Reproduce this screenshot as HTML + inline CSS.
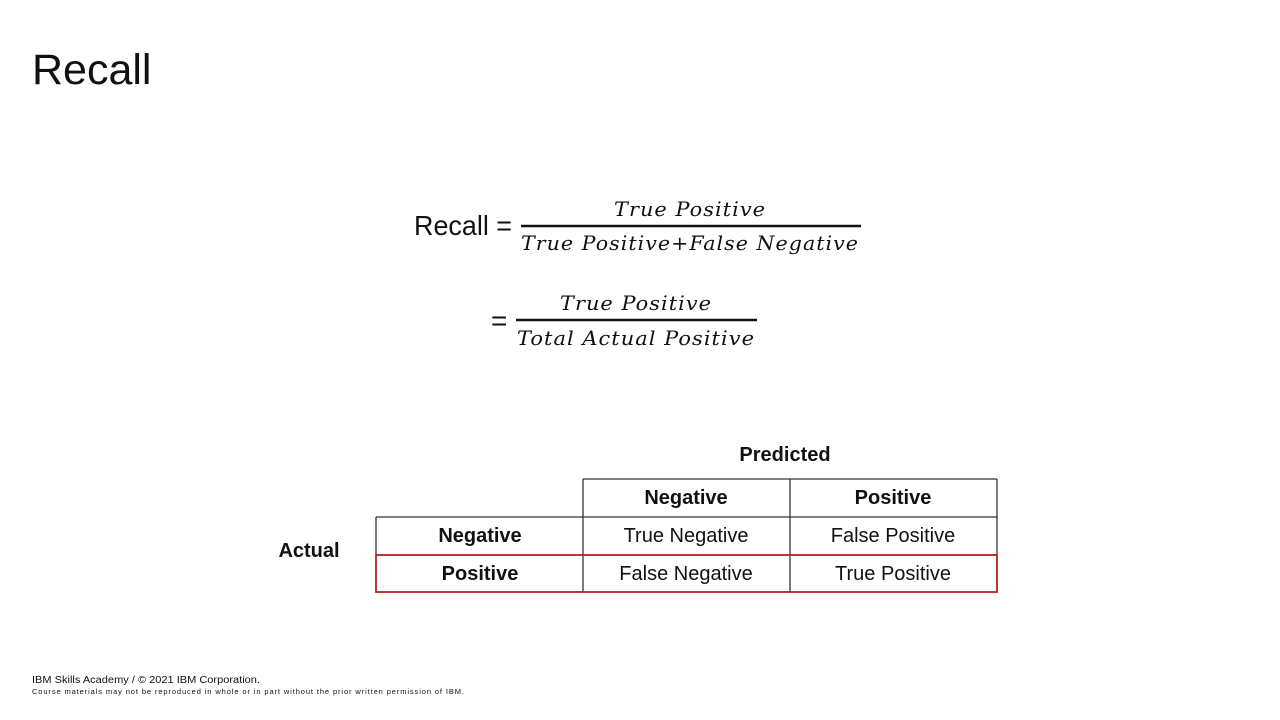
<!DOCTYPE html>
<html><head><meta charset="utf-8"><style>
html,body{margin:0;padding:0;background:#fff;}
svg{display:block;}
</style></head><body>
<svg width="1280" height="720" xmlns="http://www.w3.org/2000/svg">
<text x="32" y="84" font-family="Liberation Sans, sans-serif" font-size="43" fill="#111">Recall</text>

<g font-family="Liberation Sans, sans-serif" fill="#111">
<text x="414" y="235" font-size="28" textLength="98" lengthAdjust="spacingAndGlyphs">Recall =</text>
<text x="491" y="330" font-size="28">=</text>
</g>
<g font-family="DejaVu Serif, serif" font-style="italic" font-size="20" fill="#111" text-anchor="middle" letter-spacing="1">
<text x="690" y="216" textLength="152" lengthAdjust="spacingAndGlyphs">True Positive</text>
<text x="690" y="250" textLength="338" lengthAdjust="spacingAndGlyphs">True Positive+False Negative</text>
<text x="636" y="310" textLength="152" lengthAdjust="spacingAndGlyphs">True Positive</text>
<text x="636" y="345" textLength="238" lengthAdjust="spacingAndGlyphs">Total Actual Positive</text>
</g>
<line x1="521" y1="226" x2="861" y2="226" stroke="#111" stroke-width="2.5"/>
<line x1="516" y1="320" x2="757" y2="320" stroke="#111" stroke-width="2.5"/>

<g stroke="#333" stroke-width="1.3" fill="none">
<line x1="583" y1="479" x2="997" y2="479"/>
<line x1="583" y1="479" x2="583" y2="592"/>
<line x1="790" y1="479" x2="790" y2="592"/>
<line x1="997" y1="479" x2="997" y2="555"/>
<line x1="376" y1="517" x2="997" y2="517"/>
<line x1="376" y1="517" x2="376" y2="555"/>
</g>
<rect x="376" y="555" width="621" height="37" fill="none" stroke="#b22222" stroke-width="1.8"/>

<g font-family="Liberation Sans, sans-serif" font-size="20" fill="#111" text-anchor="middle">
<text x="785" y="461" font-weight="bold">Predicted</text>
<text x="309" y="557" font-weight="bold">Actual</text>
<text x="686" y="504" font-weight="bold">Negative</text>
<text x="893" y="504" font-weight="bold">Positive</text>
<text x="480" y="542" font-weight="bold">Negative</text>
<text x="480" y="580" font-weight="bold">Positive</text>
<text x="686" y="542">True Negative</text>
<text x="893" y="542">False Positive</text>
<text x="686" y="580">False Negative</text>
<text x="893" y="580">True Positive</text>
</g>

<g font-family="Liberation Sans, sans-serif" fill="#111">
<text x="32" y="683" font-size="10" textLength="228" lengthAdjust="spacingAndGlyphs">IBM Skills Academy / © 2021 IBM Corporation.</text>
<text x="32" y="694" font-size="7.5" textLength="432" lengthAdjust="spacing">Course materials may not be reproduced in whole or in part without the prior written permission of IBM.</text>
</g>
</svg>
</body></html>
